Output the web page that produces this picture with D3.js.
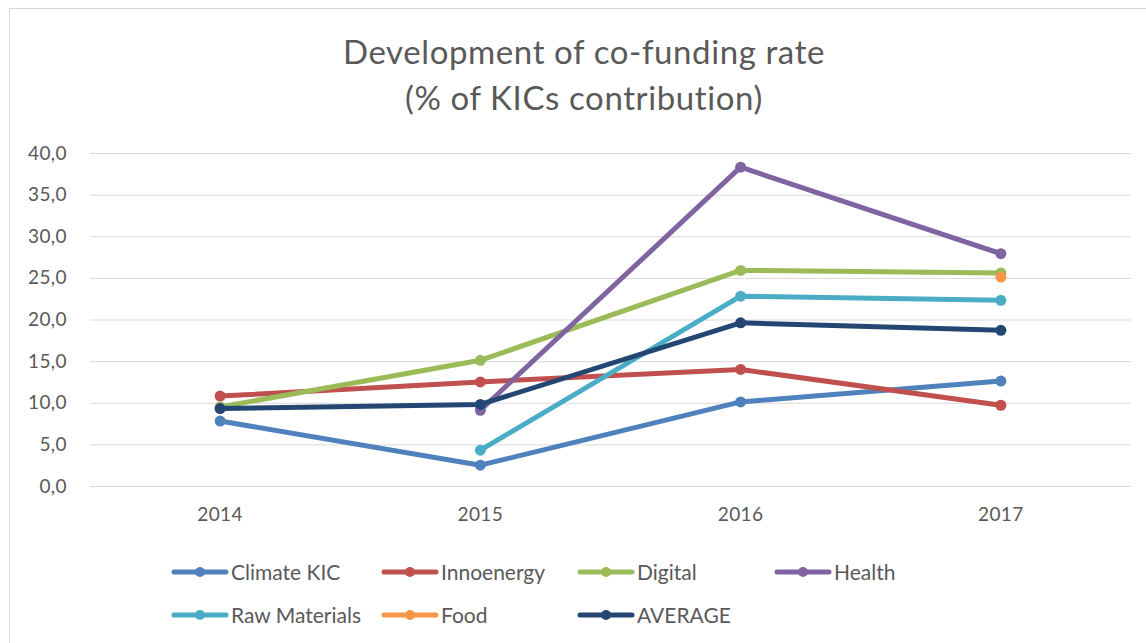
<!DOCTYPE html>
<html>
<head>
<meta charset="utf-8">
<script src="https://cdn.jsdelivr.net/npm/d3@7"></script>
<style>
  body { margin: 0; background: #fff; }
  svg text { font-family: Lato, "Open Sans", sans-serif; fill: #595959; }
</style>
</head>
<body>
<svg id="chart" width="1146" height="643"></svg>
<script>
// data
var years = ["2014", "2015", "2016", "2017"];
var yTicks = [0, 5, 10, 15, 20, 25, 30, 35, 40];

var climateKic   = [7.8, 2.5, 10.1, 12.6];
var innoenergy   = [10.8, 12.5, 14.0, 9.7];
var digital      = [9.5, 15.1, 25.9, 25.6];
var health       = [null, 9.1, 38.3, 27.9];
var rawMaterials = [null, 4.3, 22.8, 22.3];
var food         = [null, null, null, 25.1];
var average      = [9.3, 9.8, 19.6, 18.7];

var seriesNames  = ["Climate KIC", "Innoenergy", "Digital", "Health", "Raw Materials", "Food", "AVERAGE"];
var seriesValues = [climateKic, innoenergy, digital, health, rawMaterials, food, average];
var seriesColors = ["#4f81bd", "#c0504d", "#9bbb59", "#8064a2", "#4bacc6", "#f79646", "#244673"];

var svg = d3.select("#chart");
var plot = {left: 90, right: 1131, top: 153, bottom: 486};

/* chart border */
svg.append("rect")
    .attr("x", 9.5).attr("y", 8.5)
    .attr("width", 1150).attr("height", 650)
    .attr("fill", "none")
    .attr("stroke", "#d9d9d9");

/* title */
var title = svg.append("text")
    .attr("text-anchor", "middle")
    .attr("font-size", 33)
    .attr("letter-spacing", 0.6)
    .style("fill", "#595959");
title.append("tspan").attr("x", 584).attr("y", 64).text("Development  of co-funding rate");
title.append("tspan").attr("x", 584).attr("y", 110).text("(% of KICs contribution)");

var x = d3.scaleBand()
    .domain(years)
    .range([plot.left, plot.right]);

var y = d3.scaleLinear()
    .domain([0, 40])
    .range([plot.bottom, plot.top]);

/* gridlines + y labels */
var yAxis = svg.append("g")
    .attr("transform", "translate(" + plot.left + ",0)")
    .call(d3.axisLeft(y).tickValues(yTicks)
        .tickSize(-(plot.right - plot.left))
        .tickPadding(23)
        .tickFormat(d => d3.format(".1f")(d).replace(".", ",")));
yAxis.select(".domain").remove();
yAxis.selectAll("line").attr("stroke", "#d9d9d9");
yAxis.selectAll("text").attr("font-size", 19).attr("letter-spacing", 0.4)
    .style("font-family", "Lato, sans-serif").attr("fill", "#595959");

/* x labels */
var xAxis = svg.append("g")
    .attr("transform", "translate(0," + plot.bottom + ")")
    .call(d3.axisBottom(x).tickSize(0).tickPadding(22));
xAxis.select(".domain").remove();
xAxis.selectAll("text").attr("font-size", 19).attr("letter-spacing", 0.4)
    .style("font-family", "Lato, sans-serif").attr("fill", "#595959");

/* series */
var line = d3.line()
    .defined(d => d.v != null)
    .x(d => x(d.year) + x.bandwidth() / 2)
    .y(d => y(d.v));

seriesNames.forEach(function(name, i) {
    var pts = years.map((yr, j) => ({year: yr, v: seriesValues[i][j]}));
    var g = svg.append("g").attr("class", "series");
    g.append("path")
        .datum(pts)
        .attr("d", line)
        .attr("fill", "none")
        .attr("stroke", seriesColors[i])
        .attr("stroke-width", 5)
        .attr("stroke-linejoin", "round")
        .attr("stroke-linecap", "round");
    g.selectAll("circle")
        .data(pts.filter(d => d.v != null))
        .join("circle")
        .attr("cx", d => x(d.year) + x.bandwidth() / 2)
        .attr("cy", d => y(d.v))
        .attr("r", 5.5)
        .attr("fill", seriesColors[i]);
});

/* legend */
var legendX = [172, 382, 578, 775];
var legendY = [572, 615];
seriesNames.forEach(function(name, i) {
    var lx = legendX[i % 4], ly = legendY[Math.floor(i / 4)];
    var item = svg.append("g").attr("transform", "translate(" + lx + "," + ly + ")");
    item.append("line")
        .attr("x1", 2).attr("x2", 54)
        .attr("stroke", seriesColors[i])
        .attr("stroke-width", 5)
        .attr("stroke-linecap", "round");
    item.append("circle")
        .attr("cx", 28).attr("r", 5)
        .attr("fill", seriesColors[i]);
    item.append("text")
        .attr("x", 59).attr("y", 7.5)
        .attr("font-size", 21)
        .text(name);
});
</script>
</body>
</html>
